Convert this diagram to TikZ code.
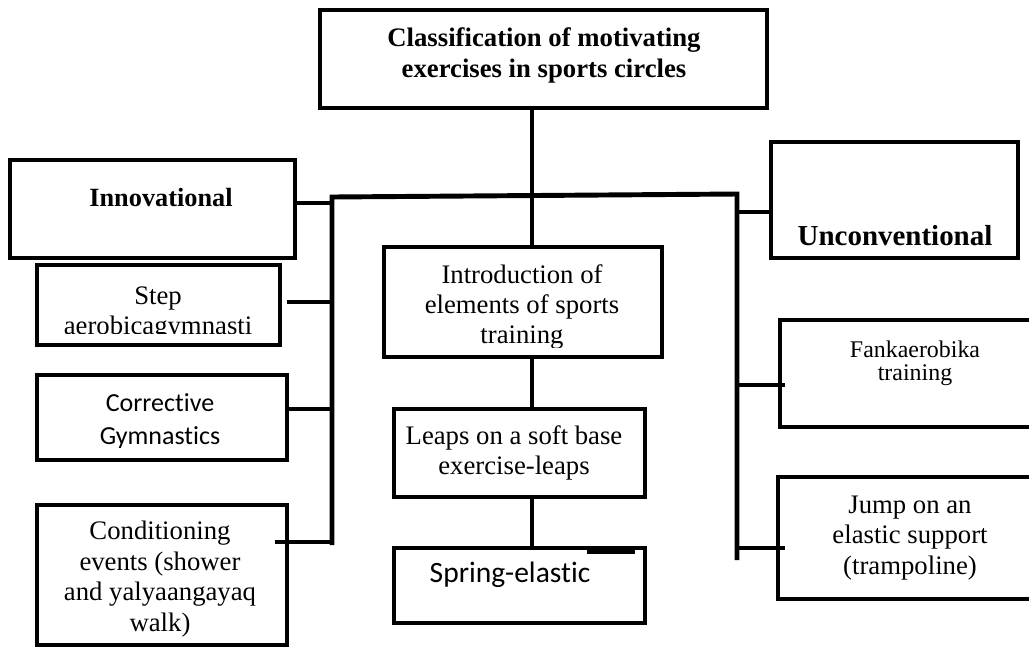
\documentclass[tikz,border=0pt]{standalone}
\usepackage{fontspec}
\setmainfont{Liberation Serif}
\newfontfamily\calibri[Ligatures=NoCommon]{Carlito}
\begin{document}
\begin{tikzpicture}[x=0.025cm,y=-0.025cm,
	box/.style={draw,line width=3pt,inner sep=0pt,outer sep=0pt},
	link/.style={line width=3.5pt},
	txt/.style={align=center,inner sep=0pt}]
	\clip (0,0) rectangle (1029,647);
	% frames
	\node[box,minimum width=11.175cm,minimum height=2.45cm] (top) at (543.5,59) {};
	\node[box,minimum width=7.125cm,minimum height=2.45cm] (innov) at (152.5,209) {};
	\node[box,minimum width=6.075cm,minimum height=2cm] (step) at (158.5,305) {};
	\node[box,minimum width=6.25cm,minimum height=2.125cm] (corr) at (162,417.5) {};
	\node[box,minimum width=6.25cm,minimum height=3.5cm] (cond) at (162,575) {};
	\node[box,minimum width=6.95cm,minimum height=2.75cm] (intro) at (523,302) {};
	\node[box,minimum width=6.275cm,minimum height=2.2cm] (leaps) at (519.5,453) {};
	\node[box,minimum width=6.275cm,minimum height=1.875cm] (spring) at (519.5,585.5) {};
	\node[box,minimum width=6.175cm,minimum height=2.9cm] (uncon) at (894.5,200) {};
	\node[box,minimum width=6.5cm,minimum height=2.675cm] (fanka) at (910,373.5) {};
	\node[box,minimum width=6.55cm,minimum height=3.05cm] (jump) at (909,538) {};
	% texts
	\node[txt,font=\fontsize{19}{22}\selectfont\bfseries] (top-t) at (544,55) {Classification of motivating\\exercises in sports circles};
	\node[txt,font=\fontsize{18.7}{21}\selectfont\bfseries] (innov-t) at (161,197) {Innovational};
	\begin{scope}
		\clip (37,265) rectangle (280,333);
		\node[txt,font=\fontsize{19}{21.3}\selectfont] (step-t) at (158,314) {Step\\aerobicagymnasti};
	\end{scope}
	\begin{scope}
		\clip (37,375) rectangle (287,447);
		\node[txt,font=\fontsize{18.5}{23.5}\selectfont\calibri] (corr-t) at (160,421.5) {Corrective\\Gymnastics};
	\end{scope}
	\node[txt,font=\fontsize{19}{21.7}\selectfont] (cond-t) at (160,579) {Conditioning\\events (shower\\and yalyaangayaq\\walk)};
	\begin{scope}
		\clip (384,247) rectangle (662,347);
		\node[txt,font=\fontsize{19}{21.3}\selectfont] (intro-t) at (522,307) {Introduction of\\elements of sports\\training};
	\end{scope}
	\node[txt,font=\fontsize{19}{21.3}\selectfont] (leaps-t) at (514,453) {Leaps on a soft base\\exercise-leaps};
	\node[txt,font=\fontsize{21}{25}\selectfont\calibri] (spring-t) at (510,575) {Spring-elastic};
	\node[txt,font=\fontsize{20.6}{24}\selectfont\bfseries] (uncon-t) at (895,236) {Unconventional};
	\node[txt,font=\fontsize{17}{16.4}\selectfont] (fanka-t) at (915,363) {Fankaerobika\\training};
	\node[txt,font=\fontsize{19}{21.7}\selectfont] (jump-t) at (910,538) {Jump on an\\elastic support\\(trampoline)};
	% bus and links
	\coordinate (lbus) at (332,197);
	\coordinate (lbus-end) at (332,545);
	\coordinate (rbus) at (737,194);
	\coordinate (rbus-end) at (737,560);
	\draw[link] (lbus-end) -- (lbus) -- (rbus) -- (rbus-end);
	\draw[link] ([xshift=-0.2875cm]top.south) coordinate (trunk) -- (trunk |- intro.north);
	\draw[link] (intro.south -| trunk) -- (leaps.north -| trunk);
	\draw[link] (leaps.south -| trunk) -- (spring.north -| trunk);
	\draw[link] ([yshift=0.15cm]innov.east) coordinate (innov-tap) -- (innov-tap -| lbus);
	\draw[link] ([xshift=0.175cm,yshift=0.075cm]step.east) coordinate (step-tap) -- (step-tap -| lbus);
	\draw[link] ([yshift=0.2125cm]corr.east) coordinate (corr-tap) -- (corr-tap -| lbus);
	\draw[link] ([xshift=-0.3cm,yshift=0.825cm]cond.east) coordinate (cond-tap) -- (cond-tap -| lbus);
	\draw[link] ([yshift=-0.3cm]uncon.west) coordinate (uncon-tap) -- (uncon-tap -| rbus);
	\draw[link] ([xshift=0.125cm,yshift=-0.2875cm]fanka.west) coordinate (fanka-tap) -- (fanka-tap -| rbus);
	\draw[link] ([xshift=0.175cm,yshift=-0.25cm]jump.west) coordinate (jump-tap) -- (jump-tap -| rbus);
	\draw[link] ([xshift=-1.45cm,yshift=-0.1cm]spring.north east) -- ++(48,0);
\end{tikzpicture}
\end{document}
